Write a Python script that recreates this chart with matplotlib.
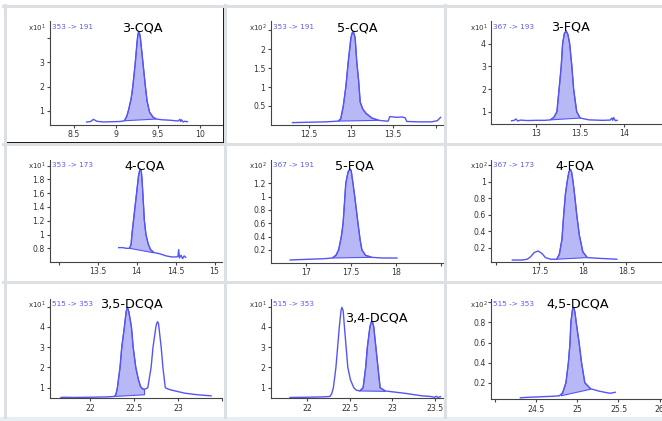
import matplotlib.pyplot as plt
from matplotlib.lines import Line2D
from matplotlib.patches import Rectangle

W, H = 662, 421

names = ["3-CQA", "5-CQA", "3-FQA", "4-CQA", "5-FQA", "4-FQA",
         "3,5-DCQA", "3,4-DCQA", "4,5-DCQA"]
transitions = ["353 -> 191", "353 -> 191", "367 -> 193", "353 -> 173", "367 -> 191",
               "367 -> 173", "515 -> 353", "515 -> 353", "515 -> 353"]
exponents = [1, 2, 1, 1, 2, 2, 1, 1, 2]

# retention time (min) and response (x10^n counts) for each MRM trace
rt_3cqa = [8.65, 8.70, 8.73, 8.77, 8.85, 8.95, 9.05, 9.10, 9.13, 9.15, 9.18, 9.20, 9.23, 9.25, 9.26, 9.27, 9.28,
           9.29, 9.32, 9.35, 9.37, 9.40, 9.44, 9.48, 9.55, 9.65, 9.74, 9.76, 9.77, 9.78, 9.80, 9.82, 9.85]
sig_3cqa = [0.55, 0.57, 0.66, 0.58, 0.55, 0.56, 0.57, 0.60, 0.80, 1.05, 1.50, 2.00, 3.00, 3.80, 4.12, 4.25, 4.18,
            4.00, 3.00, 2.00, 1.40, 0.95, 0.75, 0.67, 0.64, 0.62, 0.59, 0.66, 0.57, 0.64, 0.55, 0.58, 0.56]

rt_5cqa = [12.31, 12.50, 12.70, 12.85, 12.88, 12.91, 12.94, 12.97, 13.00, 13.015, 13.025, 13.035, 13.05, 13.07,
           13.09, 13.11, 13.14, 13.18, 13.25, 13.33, 13.42, 13.44, 13.46, 13.50, 13.55, 13.60, 13.64, 13.66,
           13.80, 13.95, 14.02, 14.06]
sig_5cqa = [0.06, 0.07, 0.08, 0.10, 0.16, 0.50, 1.00, 1.70, 2.30, 2.43, 2.47, 2.43, 2.30, 1.65,
            1.20, 0.60, 0.42, 0.30, 0.18, 0.12, 0.10, 0.10, 0.22, 0.21, 0.20, 0.21, 0.19, 0.09,
            0.08, 0.08, 0.11, 0.20]

rt_3fqa = [12.72, 12.75, 12.77, 12.79, 12.82, 12.90, 13.00, 13.10, 13.16, 13.20, 13.235, 13.26, 13.284, 13.30, 13.32,
           13.34, 13.36, 13.38, 13.405, 13.425, 13.46, 13.50, 13.60, 13.75, 13.84, 13.86, 13.87, 13.88, 13.90, 13.92]
sig_3fqa = [0.60, 0.62, 0.68, 0.59, 0.63, 0.61, 0.62, 0.62, 0.64, 0.75, 1.00, 2.00, 3.00, 4.00, 4.45,
            4.56, 4.40, 4.00, 3.00, 2.00, 1.00, 0.72, 0.64, 0.62, 0.63, 0.72, 0.62, 0.74, 0.60, 0.62]

rt_4cqa = [13.77, 13.82, 13.87, 13.91, 13.93, 13.94, 13.96, 13.98, 14.00, 14.025, 14.04, 14.05, 14.06, 14.07, 14.08,
           14.09, 14.10, 14.12, 14.15, 14.18, 14.22, 14.30, 14.38, 14.45, 14.51, 14.53, 14.54, 14.55, 14.57, 14.59,
           14.61, 14.63]
sig_4cqa = [0.81, 0.81, 0.80, 0.80, 0.86, 1.00, 1.20, 1.40, 1.60, 1.85, 1.93, 1.945, 1.92, 1.80, 1.60,
            1.40, 1.20, 1.00, 0.86, 0.78, 0.74, 0.72, 0.69, 0.675, 0.675, 0.68, 0.78, 0.66, 0.70, 0.65,
            0.69, 0.67]

rt_5fqa = [16.82, 17.00, 17.20, 17.29, 17.33, 17.36, 17.39, 17.41, 17.43, 17.44, 17.465, 17.48,
           17.49, 17.50, 17.52, 17.54, 17.576, 17.60, 17.62, 17.66, 17.73, 17.85, 18.01]
sig_5fqa = [0.05, 0.06, 0.07, 0.08, 0.12, 0.20, 0.40, 0.60, 1.00, 1.20, 1.37, 1.40,
            1.41, 1.39, 1.20, 1.00, 0.60, 0.35, 0.20, 0.12, 0.09, 0.08, 0.08]

rt_4fqa = [17.19, 17.30, 17.36, 17.40, 17.44, 17.485, 17.53, 17.57, 17.63, 17.70, 17.73, 17.76, 17.78,
           17.80, 17.82, 17.84, 17.856, 17.87, 17.888, 17.91, 17.93, 17.96, 18.00, 18.05, 18.20, 18.39]
sig_4fqa = [0.05, 0.05, 0.06, 0.09, 0.14, 0.16, 0.13, 0.08, 0.06, 0.06, 0.12, 0.30, 0.60,
            0.85, 1.00, 1.12, 1.15, 1.12, 1.00, 0.80, 0.60, 0.35, 0.15, 0.08, 0.07, 0.06]

rt_35dcqa = [21.665, 21.70, 21.80, 22.00, 22.20, 22.28, 22.295, 22.31, 22.34, 22.36, 22.39, 22.41, 22.424, 22.44,
             22.47, 22.49, 22.52, 22.55, 22.575, 22.60, 22.62, 22.64, 22.657, 22.695, 22.717, 22.75, 22.76,
             22.77, 22.78, 22.81, 22.83, 22.857, 22.89, 22.93, 23.08, 23.23, 23.38]
sig_35dcqa = [0.52, 0.53, 0.52, 0.53, 0.55, 0.57, 0.70, 1.00, 2.00, 3.00, 4.00, 4.75, 4.96, 4.75,
              4.00, 3.00, 2.00, 1.40, 1.05, 0.94, 0.92, 0.96, 1.00, 2.00, 3.00, 4.00, 4.18,
              4.25, 4.15, 3.00, 2.00, 1.00, 0.93, 0.88, 0.73, 0.65, 0.60]

rt_34dcqa = [21.80, 22.00, 22.20, 22.27, 22.29, 22.31, 22.34, 22.36, 22.38, 22.40, 22.41, 22.425, 22.44, 22.46,
             22.48, 22.51, 22.55, 22.58, 22.62, 22.66, 22.69, 22.71, 22.74, 22.755, 22.77, 22.785, 22.81,
             22.835, 22.86, 22.92, 23.04, 23.16, 23.35, 23.45, 23.50, 23.52, 23.54, 23.57]
sig_34dcqa = [0.52, 0.53, 0.55, 0.57, 0.70, 1.00, 2.00, 3.00, 4.00, 4.80, 4.96, 4.80, 4.00, 3.00,
              2.00, 1.40, 1.00, 0.88, 0.84, 1.00, 2.00, 3.00, 4.00, 4.22, 4.25, 4.00, 3.00,
              2.00, 1.00, 0.84, 0.78, 0.72, 0.60, 0.57, 0.53, 0.58, 0.52, 0.56]

rt_45dcqa = [24.305, 24.40, 24.50, 24.60, 24.70, 24.78, 24.82, 24.86, 24.89, 24.91, 24.92, 24.94,
             24.955, 24.97, 24.985, 25.02, 25.05, 25.09, 25.16, 25.26, 25.36, 25.40, 25.46]
sig_45dcqa = [0.05, 0.055, 0.058, 0.062, 0.065, 0.07, 0.10, 0.20, 0.40, 0.60, 0.80, 0.93,
              0.95, 0.90, 0.80, 0.60, 0.40, 0.20, 0.14, 0.117, 0.10, 0.095, 0.105]

# integration window and baseline for the identified peak
peak_start = [9.10, 12.85, 13.16, 13.91, 17.29, 17.70, 22.28, 22.62, 24.80]
peak_end = [9.48, 13.33, 13.50, 14.22, 17.73, 18.05, 22.62, 22.92, 25.16]
base_start = [0.60, 0.10, 0.64, 0.80, 0.08, 0.06, 0.57, 0.84, 0.07]
base_end = [0.67, 0.12, 0.72, 0.735, 0.09, 0.08, 0.65, 0.82, 0.135]

x_ticks = [[8.5, 9, 9.5, 10], [12.5, 13, 13.5, 14], [13, 13.5, 14],
           [13, 13.5, 14, 14.5, 15], [17, 17.5, 18, 18.5], [17, 17.5, 18, 18.5],
           [22, 22.5, 23, 23.5], [22, 22.5, 23, 23.5], [24, 24.5, 25, 25.5, 26]]
x_labels = [["8.5", "9", "9.5", "10"], ["12.5", "13", "13.5", ""], ["13", "13.5", "14"],
            ["", "13.5", "14", "14.5", "15"], ["17", "17.5", "18", ""], ["", "17.5", "18", "18.5"],
            ["22", "22.5", "23", ""], ["22", "22.5", "23", "23.5"], ["", "24.5", "25", "25.5", "26"]]
y_ticks = [[1, 2, 3, 4], [0.5, 1, 1.5, 2, 2.5], [1, 2, 3, 4],
           [0.8, 1, 1.2, 1.4, 1.6, 1.8, 2], [0.2, 0.4, 0.6, 0.8, 1, 1.2], [0.2, 0.4, 0.6, 0.8, 1, 1.2],
           [1, 2, 3, 4, 5], [1, 2, 3, 4, 5], [0.2, 0.4, 0.6, 0.8, 1]]
y_labels = [["1", "2", "3", ""], ["0.5", "1", "1.5", "2", ""], ["1", "2", "3", "4"],
            ["0.8", "1", "1.2", "1.4", "1.6", "1.8", ""], ["0.2", "0.4", "0.6", "0.8", "1", "1.2"],
            ["0.2", "0.4", "0.6", "0.8", "1", ""], ["1", "2", "3", "4", ""], ["1", "2", "3", "4", ""],
            ["0.2", "0.4", "0.6", "0.8", ""]]

x_limits = [(8.214, 10.262), (12.056, 14.088), (12.489, 14.43),
            (12.889, 15.096), (16.606, 18.524), (16.948, 18.91),
            (21.54, 23.505), (21.576, 23.6), (23.951, 26.03)]
y_limits = [(0.426, 4.689), (-0.003, 2.749), (0.458, 4.996),
            (0.606, 2.08), (0.0096, 1.549), (0.030, 1.263),
            (0.478, 5.37), (0.478, 5.37), (0.035, 1.033)]

traces = [(rt_3cqa, sig_3cqa), (rt_5cqa, sig_5cqa), (rt_3fqa, sig_3fqa),
          (rt_4cqa, sig_4cqa), (rt_5fqa, sig_5fqa), (rt_4fqa, sig_4fqa),
          (rt_35dcqa, sig_35dcqa), (rt_34dcqa, sig_34dcqa), (rt_45dcqa, sig_45dcqa)]

# panel geometry in pixels (y measured from the top)
col_left = [50, 271, 491.3]
col_right = [222, 443, 662]
row_top = [21, 160, 299]
ax_bottom = [125, 125, 124, 261.7, 262.7, 261.7, 398.3, 398.3, 399.3]
label_y = [27, 165, 304]

LINE = "#5555f2"
FILL = "#b8b8f7"
TEXT = "#333333"


def fx(px):
    return px / W


def fy(py):
    return 1 - py / H


fig = plt.figure(figsize=(W / 100, H / 100), dpi=100)
fig.patch.set_facecolor("white")

# window frames between the panels
gray = "#dcdfe3"
for x in [4.5, 225, 445]:
    fig.add_artist(Line2D([fx(x), fx(x)], [fy(5), fy(417)], color=gray, lw=2.2))
for y in [5.5, 143.5, 282]:
    fig.add_artist(Line2D([fx(3), fx(W)], [fy(y), fy(y)], color=gray, lw=2.2))
fig.add_artist(Rectangle((0, 0), 1, fy(417), transform=fig.transFigure, color="#e9eef4", lw=0))
fig.add_artist(Rectangle((fx(5), fy(142.5)), fx(223.5) - fx(5), fy(6) - fy(142.5),
                         transform=fig.transFigure, fill=False, ec="black", lw=1.3))

for i in range(9):
    r, c = divmod(i, 3)
    left, right = col_left[c], col_right[c]
    top, bottom = row_top[r], ax_bottom[i]
    ax = fig.add_axes([fx(left), fy(bottom), fx(right - left), (bottom - top) / H])
    ax.patch.set_alpha(0)

    rt, sig = traces[i]
    ax.plot(rt, sig, color=LINE, lw=1.0, solid_joinstyle="round")

    # shaded integrated peak, closed by a straight baseline
    s0, s1 = peak_start[i], peak_end[i]
    px = [s0] + [t for t in rt if s0 <= t <= s1] + [s1]
    py = [base_start[i]] + [v for t, v in zip(rt, sig) if s0 <= t <= s1] + [base_end[i]]
    ax.fill(px, py, facecolor=FILL, edgecolor=LINE, lw=0.8)

    apex = max(v for t, v in zip(rt, sig) if s0 <= t <= s1)
    apex_rt = [t for t, v in zip(rt, sig) if v == apex and s0 <= t <= s1][0]
    ax.annotate(names[i], xy=(apex_rt, apex), xytext=(3, 0), textcoords="offset points",
                ha="center", va="baseline", fontsize=9.2, color="black", annotation_clip=False)

    ax.set_xlim(*x_limits[i])
    ax.set_ylim(*y_limits[i])
    ax.set_xticks(x_ticks[i])
    ax.set_xticklabels(x_labels[i])
    ax.set_yticks(y_ticks[i])
    ax.set_yticklabels(y_labels[i])

    for side in ["top", "right"]:
        ax.spines[side].set_visible(False)
    for side in ["left", "bottom"]:
        ax.spines[side].set_color("#444444")
        ax.spines[side].set_linewidth(0.8)
    ax.tick_params(direction="out", length=2.4, width=0.8, color="#444444",
                   labelsize=5.6, labelcolor=TEXT, pad=1.5)

    fig.text(fx(left + 2), fy(label_y[r]), transitions[i], color="#5a5af2",
             fontsize=5.2, ha="left", va="center")
    fig.text(fx(left - 4), fy(label_y[r] + 1.5), "x10$^{%d}$" % exponents[i], color=TEXT,
             fontsize=5.0, ha="right", va="center")

fig.savefig("out.png", dpi=100)
